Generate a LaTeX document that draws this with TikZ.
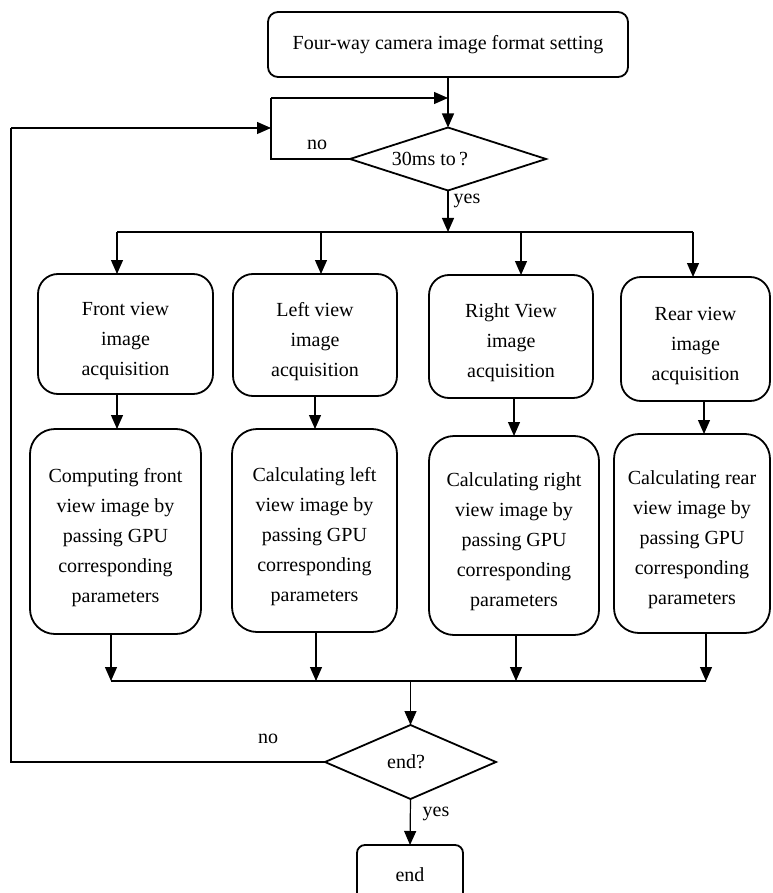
\documentclass[tikz,border=0pt]{standalone}
\usepackage{fontspec}
\setmainfont{Liberation Serif}
\usetikzlibrary{shapes.geometric,arrows.meta}
% taller first line so a text block sits a little lower in its box
\newcommand\firstlinestrut{\rule{0pt}{27pt}}
\begin{document}
\begin{tikzpicture}[x=1pt,y=-1pt,
  every node/.style={font=\fontsize{20}{30}\selectfont, outer sep=0pt, inner sep=0pt},
  box/.style={draw, line width=1.8pt, rounded corners=#1, align=center},
  box/.default=20pt,
  decision/.style={draw, diamond, line width=1.8pt},
  flow/.style={line width=1.2pt, -{Triangle[length=14pt,width=12pt]}},
  link/.style={line width=1.2pt}]
\useasboundingbox (0,0) rectangle (772,893);

% start and first decision
\node[box=10pt, minimum width=360pt, minimum height=65pt] (start) at (448,44.5) {Four-way camera image format setting};
\node[decision, minimum width=196pt, minimum height=63pt] (wait) at (448,159) {};
\node (waittext) at (430,159) {30ms to\,?};

% image acquisition
\node[box=20pt, minimum width=175pt, minimum height=120pt] (acqF) at (125.5,334) {\firstlinestrut Front view\\image\\acquisition};
\node[box=20pt, minimum width=164pt, minimum height=122pt] (acqL) at (315,335) {\firstlinestrut Left view\\image\\acquisition};
\node[box=20pt, minimum width=164pt, minimum height=123pt] (acqR) at (511,336.5) {\firstlinestrut Right View\\image\\acquisition};
\node[box=20pt, minimum width=149pt, minimum height=124pt] (acqB) at (695.5,339) {\firstlinestrut Rear view\\image\\acquisition};

% GPU computation
\node[box=25pt, minimum width=171pt, minimum height=205pt] (calcF) at (115.5,531.5) {\firstlinestrut Computing front\\view image by\\passing GPU\\corresponding\\parameters};
\node[box=25pt, minimum width=165pt, minimum height=203pt] (calcL) at (314.5,530.5) {\firstlinestrut Calculating left\\view image by\\passing GPU\\corresponding\\parameters};
\node[box=25pt, minimum width=170pt, minimum height=199pt] (calcR) at (514,535.5) {\firstlinestrut Calculating right\\view image by\\passing GPU\\corresponding\\parameters};
\node[box=25pt, minimum width=156pt, minimum height=199pt] (calcB) at (692,533.5) {\firstlinestrut Calculating rear\\view image by\\passing GPU\\corresponding\\parameters};

% final decision and end
\node[decision, minimum width=171pt, minimum height=74pt] (done) at (410.5,762) {};
\node (donetext) at (406,762) {end?};
\node[box=8pt, minimum width=106pt, minimum height=60pt] (finish) at (410,875) {end};

% labels
\node (no1) at (317,145) {no};
\node (yes1) at (467,201) {yes};
\node (no2) at (268,739) {no};
\node (yes2) at (436,814) {yes};

% junction points
\coordinate (b1) at (117,232);
\coordinate (b2) at (321,232);
\coordinate (b3) at (521,232);
\coordinate (b4) at (693,232);
\coordinate (m1) at (117,0);
\coordinate (m2) at (315,0);
\coordinate (m3) at (514,0);
\coordinate (m4) at (704,0);
\coordinate (j1) at (111,681);
\coordinate (j2) at (316,681);
\coordinate (j3) at (516,681);
\coordinate (j4) at (706,681);
\coordinate (jc) at (410.5,681);
\coordinate (loopIn) at (271,98);
\coordinate (loopOut) at (11,128);

% main flow
\draw[flow] (start.south) -- (wait.north);
\draw[flow] (wait.south) -- (wait.south |- b1);
\draw[link] (b1) -- (b4);
\draw[flow] (b1) -- (b1 |- acqF.north);
\draw[flow] (b2) -- (b2 |- acqL.north);
\draw[flow] (b3) -- (b3 |- acqR.north);
\draw[flow] (b4) -- (b4 |- acqB.north);

\draw[flow] (acqF.south -| m1) -- (m1 |- calcF.north);
\draw[flow] (acqL.south -| m2) -- (m2 |- calcL.north);
\draw[flow] (acqR.south -| m3) -- (m3 |- calcR.north);
\draw[flow] (acqB.south -| m4) -- (m4 |- calcB.north);

\draw[flow] (calcF.south -| j1) -- (j1);
\draw[flow] (calcL.south -| j2) -- (j2);
\draw[flow] (calcR.south -| j3) -- (j3);
\draw[flow] (calcB.south -| j4) -- (j4);
\draw[link] (j1) -- (j4);
\draw[flow] (jc) -- (done.north);
\draw[flow] (done.south) -- (finish.north);

% loops back
\draw[link] (wait.west) -| (loopIn);
\draw[flow] (loopIn) -- (loopIn -| wait.north);
\draw[link] (done.west) -| (loopOut);
\draw[flow] (loopOut) -- (loopOut -| loopIn);
\end{tikzpicture}
\end{document}
